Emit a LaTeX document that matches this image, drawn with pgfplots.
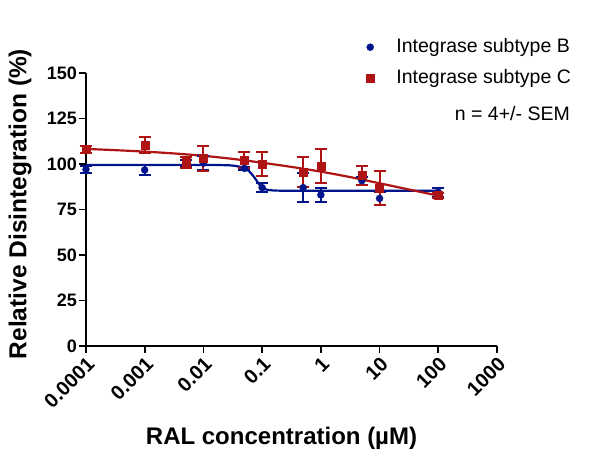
\documentclass[border=0pt]{standalone}
\usepackage{fontspec}
\setmainfont{Liberation Sans}
\usepackage{pgfplots}
\pgfplotsset{compat=1.18}
\usepackage{pgfplotstable}
\definecolor{cblue}{RGB}{0,20,140}
\definecolor{cred}{RGB}{175,20,20}

\pgfplotstableread{
x y e
0.0001 97.0 2.0
0.001 96.7 3.0
0.005 100.4 2.0
0.01 100.5 4.0
0.05 97.6 1.0
0.1 87.0 2.5
0.5 87.0 8.0
1 83.0 3.7
5 90.8 2.3
10 81.1 3.7
100 84.5 2.5
}\dataB

\pgfplotstableread{
x y e
0.0001 108.1 1.8
0.001 110.4 4.6
0.005 101.0 3.0
0.01 103.0 7.0
0.05 102.2 4.5
0.1 100.0 6.7
0.5 95.6 8.0
1 98.8 9.5
5 93.8 5.3
10 86.7 9.2
100 82.6 1.5
}\dataC

\pgfplotstableread{
x y
0.0001 99.5
0.001 99.5
0.01 99.5
0.02 99.4
0.03 99.2
0.04 98.6
0.05 97.6
0.06 96.0
0.07 93.6
0.08 91.0
0.09 88.6
0.1 87.0
0.12 85.9
0.15 85.5
0.2 85.35
0.5 85.3
100 85.3
}\fitB

\pgfplotstableread{
x y
0.0001 108.3
0.000316 107.6
0.001 106.8
0.00316 105.8
0.01 104.5
0.0316 102.8
0.1 100.7
0.316 98.4
1 95.8
3.16 92.8
10 89.4
31.6 86.0
100 82.6
}\fitC

\begin{document}
\begin{tikzpicture}
\begin{axis}[
  scale only axis,
  width=411pt, height=273pt,
  xmode=log,
  xmin=0.0001, xmax=1000,
  ymin=0, ymax=150,
  axis lines=left,
  axis line style={-, line width=1.6pt, black},
  clip=false,
  xtick={0.0001,0.001,0.01,0.1,1,10,100,1000},
  xticklabels={0.0001,0.001,0.01,0.1,1,10,100,1000},
  xminorticks=false,
  yminorticks=false,
  ytick={0,25,50,75,100,125,150},
  tick align=outside,
  major tick length=7pt,
  minor tick length=0pt,
  tick style={line width=1.6pt, black},
  /pgf/number format/assume math mode=true,
  xticklabel style={rotate=45, anchor=east, inner sep=0pt, yshift=-9pt, xshift=-2pt, font=\fontsize{20}{22}\selectfont\bfseries},
  yticklabel style={inner sep=2pt, font=\fontsize{18}{20}\selectfont\bfseries},
  xlabel={RAL concentration (µM)},
  ylabel={Relative Disintegration (\%)},
  xlabel style={at={(rel axis cs:0.4757,-0.359)}, anchor=base, font=\fontsize{24}{26}\selectfont\bfseries},
  ylabel style={at={(rel axis cs:-0.1606,0.52)}, anchor=center, font=\fontsize{24.5}{26}\selectfont\bfseries},
  legend style={at={(rel axis cs:0.6813,1.1282)}, anchor=north west, draw=none, fill=none,
    inner sep=0pt, row sep=13pt, column sep=0pt,
    font=\fontsize{19.5}{22}\selectfont,
    nodes={inner sep=0pt, text height=14pt, text depth=4pt}},
  legend cell align=left,
  legend image code/.code={\draw[#1] plot coordinates {(3pt,0pt)};\path (0pt,0pt) (29pt,0pt);},
]
\addplot[cblue, line width=2.2pt, smooth, forget plot] table {\fitB};
\addplot[cred, line width=2.2pt, smooth, forget plot] table {\fitC};
\addplot[only marks, cblue, mark=*, mark size=3.5pt,
  error bars/.cd, y dir=both, y explicit,
  error bar style={line width=2pt, cblue},
  error mark options={rotate=90, mark size=6pt, line width=2pt, cblue}]
  table[x=x, y=y, y error=e] {\dataB};
\addlegendentry{Integrase subtype B}
\addplot[only marks, cred, mark=square*, mark size=4pt,
  error bars/.cd, y dir=both, y explicit,
  error bar style={line width=2pt, cred},
  error mark options={rotate=90, mark size=6pt, line width=2pt, cred}]
  table[x=x, y=y, y error=e] {\dataC};
\addlegendentry{Integrase subtype C}
\node[anchor=base east, font=\fontsize{19.5}{22}\selectfont, inner sep=0pt] at (rel axis cs:1.1776,0.8242) {n = 4+/- SEM};
\path (rel axis cs:-0.20925,-0.46520) rectangle (rel axis cs:1.25061,1.26740);
\end{axis}
\end{tikzpicture}
\end{document}
